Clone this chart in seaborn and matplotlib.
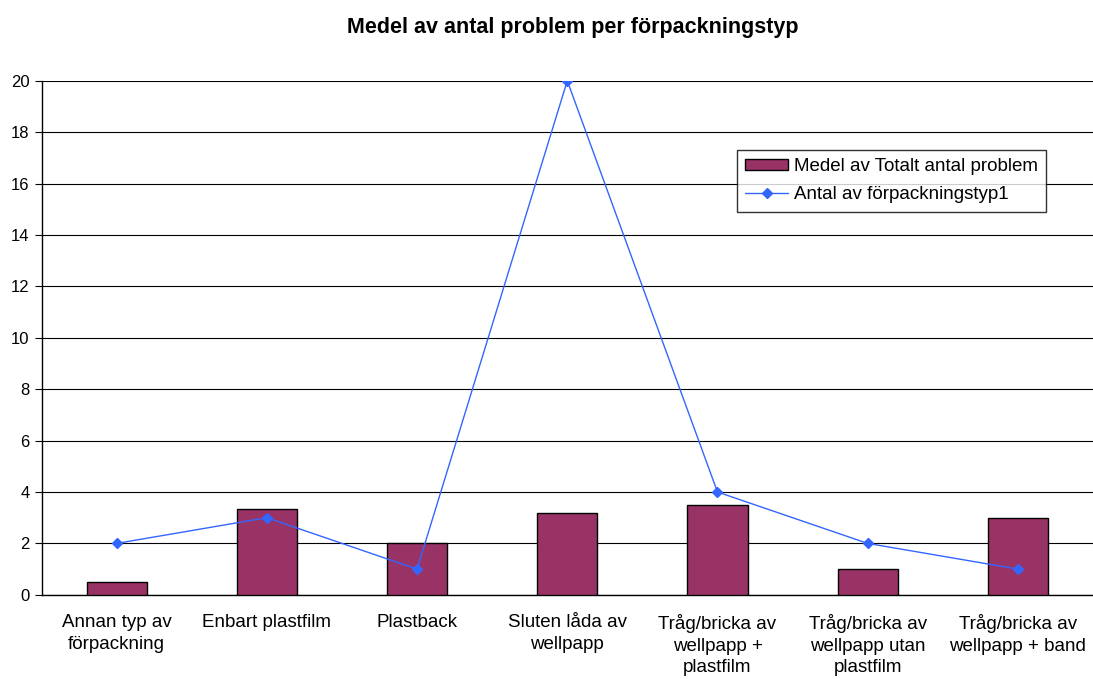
import matplotlib
matplotlib.use("Agg")
import matplotlib.pyplot as plt
import seaborn as sns
import pandas as pd
import numpy as np

categories = ["Annan typ av\nförpackning", "Enbart plastfilm", "Plastback",
              "Sluten låda av\nwellpapp", "Tråg/bricka av\nwellpapp +\nplastfilm",
              "Tråg/bricka av\nwellpapp utan\nplastfilm", "Tråg/bricka av\nwellpapp + band"]
medel_problem = [0.5, 3.33, 2.0, 3.2, 3.5, 1.0, 3.0]
antal_typ = [2, 3, 1, 20, 4, 2, 1]
y_ticks = list(range(0, 21, 2))

sns.set_theme(style="white")
plt.rcParams['font.family'] = ['Liberation Sans', 'DejaVu Sans']
plt.rcParams['text.color'] = 'black'
plt.rcParams['xtick.color'] = 'black'
plt.rcParams['ytick.color'] = 'black'

df = pd.DataFrame({"kategori": categories, "medel": medel_problem, "antal": antal_typ})

fig = plt.figure(figsize=(10.93, 6.79), dpi=100)
ax = fig.add_axes([0.038, 0.124, 0.962, 0.757])

sns.barplot(data=df, x="kategori", y="medel", color="#993366", saturation=1,
            width=0.4, edgecolor="black", linewidth=1, ax=ax,
            label="Medel av Totalt antal problem", zorder=3)
ax.plot(np.arange(len(categories)), df["antal"], color="#3366FF", linewidth=1,
        marker="D", markersize=5, label="Antal av förpackningstyp1", zorder=4)

ax.set_xlim(-0.5, len(categories) - 0.5)
ax.set_ylim(0, 20)
ax.set_yticks(y_ticks)
ax.set_yticklabels([str(v) for v in y_ticks], fontsize=12)
ax.yaxis.grid(True, color="black", linewidth=0.8, zorder=0)
ax.set_axisbelow(True)

ax.set_xticks(np.arange(len(categories)))
ax.set_xticklabels(categories, fontsize=13.5, color="black", linespacing=1.33)
ax.set_xticks(np.arange(len(categories) + 1) - 0.5, minor=True)
ax.tick_params(axis="x", which="major", length=0, pad=14)
ax.tick_params(axis="x", which="minor", length=6, direction="out", color="black", width=0.8)
ax.tick_params(axis="y", length=5, direction="out", color="black", width=0.8, left=True, labelsize=12)
ax.set_xlabel("")
ax.set_ylabel("")

for side in ["top", "right"]:
    ax.spines[side].set_visible(False)
for side in ["left", "bottom"]:
    ax.spines[side].set_color("black")
    ax.spines[side].set_linewidth(1)

fig.text(0.524, 0.96, "Medel av antal problem per förpackningstyp", fontsize=15.5,
         fontweight="bold", color="black", ha="center", va="center")

handles, labels = ax.get_legend_handles_labels()
order = [labels.index("Medel av Totalt antal problem"), labels.index("Antal av förpackningstyp1")]
leg = ax.legend([handles[i] for i in order], [labels[i] for i in order],
                loc="upper left", bbox_to_anchor=(0.661, 0.866), frameon=True, fancybox=False,
                edgecolor="black", fontsize=13.5, borderpad=0.45, handlelength=2.3,
                handleheight=0.6, handletextpad=0.3, labelspacing=0.6, borderaxespad=0)
leg.get_frame().set_linewidth(1)
leg.set_zorder(10)

fig.savefig("out.png", dpi=100, facecolor="white")
